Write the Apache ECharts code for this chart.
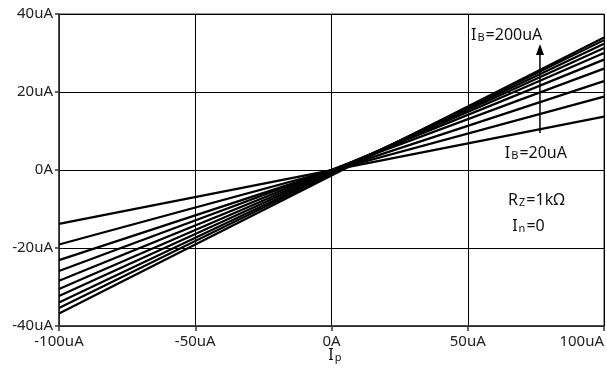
<!DOCTYPE html>
<html><head><meta charset="utf-8">
<script src="https://cdn.jsdelivr.net/npm/echarts@6/dist/echarts.min.js"></script>
<style>html,body{margin:0;padding:0;background:#fff}#c{width:607px;height:374px}</style>
</head><body><div id="c"></div>
<script>
var ibValues = [20, 40, 60, 80, 100, 120, 140, 160, 180, 200];
var xEnds = [-100, 100];
var yAtLeft = [-13.8, -19.1, -23.1, -25.9, -28.4, -30.5, -32.3, -34.0, -35.4, -36.8];
var yAtRight = [13.7, 18.8, 22.8, 26.0, 28.3, 30.0, 31.3, 32.4, 33.3, 34.0];
var xTicks = [-100, -50, 0, 50, 100];
var yTicks = [-40, -20, 0, 20, 40];

var FONT = '"Noto Sans", sans-serif';
var chart = echarts.init(document.getElementById('c'));
var series = ibValues.map(function (ib, i) {
  return {
    type: 'line', name: 'IB=' + ib + 'uA', symbol: 'none', silent: true,
    lineStyle: { color: '#000', width: 2.2 },
    data: [[xEnds[0], yAtLeft[i]], [xEnds[1], yAtRight[i]]]
  };
});
function fmt(v) { return v + (v === 0 ? 'A' : 'uA'); }
chart.setOption({
  animation: false,
  grid: { left: 59, right: 3, top: 14, bottom: 48, show: true, borderColor: '#333', borderWidth: 1, containLabel: false, outerBoundsMode: 'none' },
  xAxis: {
    type: 'value', min: -100, max: 100, interval: 50,
    axisLine: { show: true, onZero: false, lineStyle: { color: '#333', width: 1.5 } },
    axisTick: { show: true, length: 5, lineStyle: { color: '#333', width: 1.5 } },
    axisLabel: { color: '#222', fontSize: 15, fontFamily: FONT, margin: 8, formatter: fmt, hideOverlap: false, alignMaxLabel: 'right' },
    splitLine: { show: true, lineStyle: { color: '#000', width: 1 } }
  },
  yAxis: {
    type: 'value', min: -40, max: 40, interval: 20,
    axisLine: { show: true, onZero: false, lineStyle: { color: '#333', width: 1.5 } },
    axisTick: { show: true, length: 4, lineStyle: { color: '#333', width: 1.5 } },
    axisLabel: { color: '#222', fontSize: 15, fontFamily: FONT, margin: 6, formatter: fmt },
    splitLine: { show: true, lineStyle: { color: '#000', width: 1 } }
  },
  series: series
});

function px(x, y) { return chart.convertToPixel({ gridIndex: 0 }, [x, y]); }
var arrowBottom = px(76.5, 9.5), arrowTop = px(76.5, 31.0);
var richStyle = {
  m: { fontSize: 16, fontFamily: FONT, color: '#111' },
  s: { fontSize: 11, fontFamily: FONT, color: '#111', verticalAlign: 'bottom', padding: [5, 1, 0, 1] }
};
function label(x, y, str) {
  var p = px(x, y);
  return { type: 'text', x: p[0], y: p[1], style: { text: str, rich: richStyle, fontSize: 16, fontFamily: FONT, fill: '#111', verticalAlign: 'middle' } };
}
chart.setOption({
  graphic: [
    label(51.2, 34.6, '{m|I}{s|B}{m|=200uA}'),
    label(63.6, 4.2, '{m|I}{s|B}{m|=20uA}'),
    label(64.8, -7.8, '{m|R}{s|Z}{m|=1kΩ}'),
    label(66.3, -14.5, '{m|I}{s|n}{m|=0}'),
    label(-1.2, -47.6, '{m|I}{s|p}'),
    { type: 'line', shape: { x1: arrowBottom[0], y1: arrowBottom[1], x2: arrowTop[0], y2: arrowTop[1] + 4 }, style: { stroke: '#000', lineWidth: 1.5 } },
    { type: 'polygon', shape: { points: [[arrowTop[0], arrowTop[1] - 5], [arrowTop[0] - 4, arrowTop[1] + 6], [arrowTop[0] + 4, arrowTop[1] + 6]] }, style: { fill: '#000' } }
  ]
});
</script></body></html>
